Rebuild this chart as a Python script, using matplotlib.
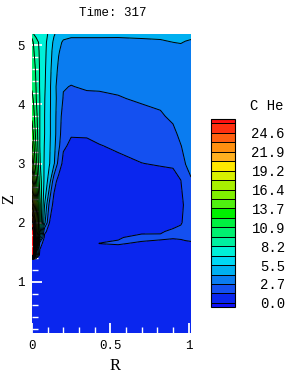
import numpy as np
import matplotlib
matplotlib.use("Agg")
import matplotlib.pyplot as plt
from matplotlib.ticker import MultipleLocator

# grid (R across, Z up)
r_grid = [0, 0.01, 0.025, 0.05, 0.08, 0.11, 0.14, 0.17, 0.2,
          0.25, 0.35, 0.43, 0.55, 0.7, 0.82, 0.9, 0.95, 0.98, 1.015]
z_grid = [0.135, 1.0, 1.38, 1.45, 1.65, 1.75, 1.85, 2.0, 2.3, 2.7,
          3.0, 3.3, 3.5, 3.8, 4.1, 4.3, 4.6, 4.9, 5.05, 5.19]

# estimated He concentration, one row per z_grid entry
c_he = [
    [0.6, 0.6, 0.6, 0.6, 0.6, 0.6, 0.6, 0.6, 0.6, 0.6, 0.6, 0.6, 0.6, 0.6, 0.6, 0.6, 0.6, 0.6, 0.6],
    [0.6, 0.6, 0.6, 0.6, 0.6, 0.6, 0.6, 0.6, 0.6, 0.6, 0.6, 0.6, 0.6, 0.6, 0.6, 0.6, 0.6, 0.6, 0.6],
    [0.9, 0.8, 0.6, 0.6, 0.6, 0.6, 0.6, 0.6, 0.6, 0.6, 0.6, 0.6, 0.6, 0.6, 0.6, 0.6, 0.6, 0.6, 0.6],
    [26.5, 26.0, 6.0, 0.8, 0.6, 0.6, 0.6, 0.6, 0.6, 0.7, 0.7, 0.7, 0.7, 0.7, 0.7, 0.7, 0.75, 0.75, 0.8],
    [26.5, 26.1, 15.0, 2.0, 0.8, 0.7, 0.7, 0.7, 0.7, 0.7, 1.0, 1.38, 1.45, 1.25, 1.1, 1.05, 1.2, 1.25, 1.3],
    [26.5, 26.1, 17.0, 6.0, 1.1, 0.7, 0.7, 0.7, 0.7, 0.75, 0.9, 1.1, 1.3, 1.6, 1.55, 1.45, 1.45, 1.5, 1.5],
    [26.5, 26.0, 17.5, 9.0, 1.6, 1.0, 0.65, 0.6, 0.6, 0.7, 0.8, 0.9, 1.0, 1.2, 1.25, 1.6, 1.55, 1.65, 1.7],
    [25.5, 23.0, 17.0, 10.0, 4.5, 1.4, 0.7, 0.65, 0.65, 0.65, 0.7, 0.75, 0.8, 0.9, 0.9, 0.9, 1.3, 1.55, 1.8],
    [22.0, 19.0, 15.5, 10.0, 5.5, 2.5, 0.85, 0.7, 0.7, 0.65, 0.65, 0.7, 0.75, 0.8, 0.85, 0.95, 1.2, 1.5, 2.0],
    [18.5, 16.0, 13.0, 9.0, 6.5, 4.8, 1.9, 0.9, 0.8, 0.7, 0.75, 0.8, 0.85, 0.9, 0.9, 1.0, 1.33, 2.3, 2.65],
    [16.0, 13.7, 11.6, 8.35, 6.65, 5.6, 4.3, 2.2, 1.0, 0.9, 0.95, 1.0, 1.15, 1.35, 1.45, 1.5, 1.9, 2.75, 3.0],
    [14.0, 12.7, 10.9, 8.2, 6.75, 5.7, 4.5, 3.05, 1.55, 1.15, 1.2, 1.33, 1.5, 1.75, 1.9, 2.0, 2.7, 3.0, 3.2],
    [13.2, 12.1, 10.6, 8.2, 6.85, 5.75, 4.6, 3.3, 1.9, 1.45, 1.45, 1.6, 1.8, 2.0, 2.2, 2.45, 3.0, 3.2, 3.3],
    [12.0, 11.3, 10.2, 8.2, 6.85, 5.75, 4.6, 3.4, 2.2, 1.9, 1.9, 2.0, 2.2, 2.35, 2.6, 2.95, 3.3, 3.4, 3.4],
    [11.2, 10.8, 9.7, 8.2, 6.9, 5.8, 4.6, 3.6, 2.65, 2.4, 2.5, 2.55, 2.65, 2.9, 3.0, 3.3, 3.4, 3.4, 3.4],
    [10.8, 10.4, 9.6, 8.1, 7.0, 5.8, 4.6, 3.5, 2.8, 2.7, 2.85, 2.85, 2.95, 3.2, 3.3, 3.4, 3.4, 3.4, 3.4],
    [10.4, 10.1, 9.4, 8.1, 7.1, 5.9, 4.8, 3.85, 3.4, 3.1, 3.15, 3.2, 3.3, 3.4, 3.4, 3.5, 3.5, 3.5, 3.5],
    [10.0, 9.7, 9.0, 8.0, 7.2, 6.1, 5.0, 4.2, 3.7, 3.35, 3.35, 3.4, 3.5, 3.6, 3.7, 3.8, 3.8, 3.8, 3.8],
    [9.8, 9.5, 8.8, 7.9, 7.2, 6.3, 5.2, 4.5, 3.9, 3.6, 3.6, 3.6, 3.7, 3.85, 3.95, 4.1, 4.15, 4.05, 4.0],
    [9.3, 8.2, 7.8, 7.4, 7.1, 6.7, 5.6, 5.0, 4.6, 4.5, 4.5, 4.5, 4.4, 4.4, 4.4, 4.5, 4.5, 4.4, 4.3],
]

# contour levels: 0 .. 24.6 in 18 steps, one more above, plus the partial end bands
inner_levels = list(np.linspace(0, 24.6, 19)) + [24.6 + 24.6 / 18]
levels = [-0.6] + inner_levels + [26.6]
band_colors = ['#1010f8', '#0a26ee', '#1450f0', '#0a7cf0', '#00b0f0', '#00d8f4',
               '#00f0d8', '#00f0a0', '#00f070', '#00f040', '#00f000', '#50f010',
               '#80f000', '#a8f000', '#d8f000', '#ffe800', '#ffb020', '#ff9010',
               '#ff6010', '#ff3010', '#ff1010']
cbar_ticks = list(np.linspace(0, 24.6, 10))
cbar_labels = ['0.0', '2.7', '5.5', '8.2', '10.9', '13.7', '16.4', '19.2', '21.9', '24.6']
x_ticks = [0, 0.5, 1]
x_labels = ['0', '0.5', '1']
y_ticks = [1, 2, 3, 4, 5]
y_labels = ['1', '2', '3', '4', '5']

mono = 'Liberation Mono'
serif = 'Liberation Serif'

fig = plt.figure(figsize=(2.91, 3.79), dpi=100)
ax = fig.add_axes([32 / 291, 1 - 333 / 379, 159 / 291, 299 / 379])
cax = fig.add_axes([211 / 291, 1 - 307 / 379, 24 / 291, 188 / 379])

R, Z = np.meshgrid(r_grid, z_grid)
C = np.array(c_he)
cf = ax.contourf(R, Z, C, levels=levels, colors=band_colors)
ax.contour(R, Z, C, levels=inner_levels, colors='k', linewidths=0.7)

ax.set_xlim(0, 1.015)
ax.set_ylim(0.135, 5.19)
for sp in ax.spines.values():
    sp.set_visible(False)

ax.set_xticks(x_ticks)
ax.set_xticklabels(x_labels, fontfamily=mono, fontsize=9)
ax.set_yticks(y_ticks)
ax.set_yticklabels(y_labels, fontfamily=mono, fontsize=9)
ax.xaxis.set_minor_locator(MultipleLocator(0.1))
ax.yaxis.set_minor_locator(MultipleLocator(0.2))
ax.tick_params(which='both', direction='in', color='white', top=False, right=False)
ax.tick_params(which='major', length=7, width=1.3, pad=5)
ax.tick_params(which='minor', length=4, width=1.0)

ax.set_xlabel('R', fontfamily=serif, fontsize=12)
ax.xaxis.set_label_coords((115 - 32) / 159, (333 - 358) / 299)
ax.set_ylabel('Z', fontfamily=serif, fontsize=12)
ax.yaxis.set_label_coords((17 - 32) / 159, (333 - 199) / 299)

cbar = fig.colorbar(cf, cax=cax, spacing='proportional', drawedges=True)
cbar.outline.set_edgecolor('black')
cbar.outline.set_linewidth(0.8)
cbar.dividers.set_color('black')
cbar.dividers.set_linewidth(0.7)
cbar.set_ticks(cbar_ticks)
cbar.set_ticklabels(cbar_labels)
cax.tick_params(length=0, pad=36)
for lab in cax.get_yticklabels():
    lab.set_horizontalalignment('right')
    lab.set_fontfamily(mono)
    lab.set_fontsize(10)

fig.text(266.5 / 291, 1 - 106 / 379, 'C He', fontfamily=mono, fontsize=10,
         ha='center', va='center')
fig.text(112.5 / 291, 1 - 13 / 379, 'Time: 317', fontfamily=mono, fontsize=9,
         ha='center', va='center')

fig.savefig('out.png', dpi=100)
